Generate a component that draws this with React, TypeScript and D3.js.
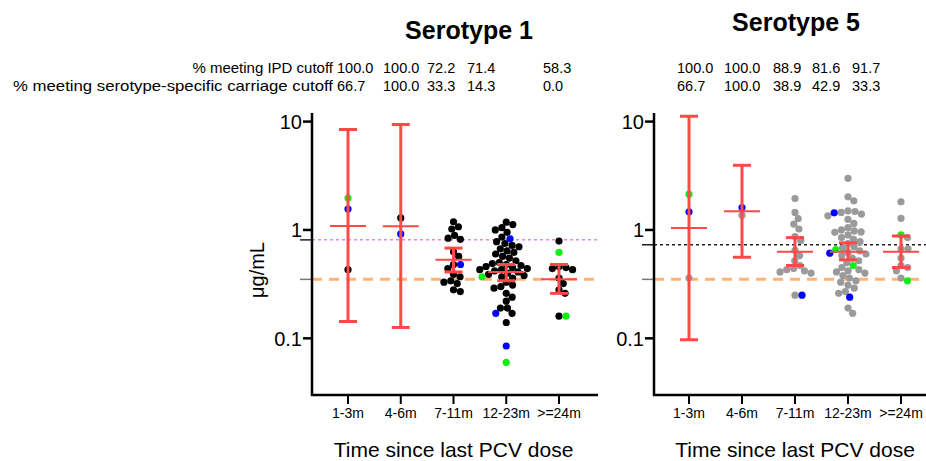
import React from "react";
import * as d3 from "d3";

const categories = ["1-3m", "4-6m", "7-11m", "12-23m", ">=24m"];

// Serotype 1 individual values, per category
const s1Black = [
  [0.43],
  [1.29],
  [1.19, 1.07, 1.02, 0.89, 0.84, 0.82, 0.63, 0.57, 0.48, 0.44, 0.39, 0.37, 0.34, 0.33, 0.32, 0.28, 0.27],
  [1.18, 1.12, 1.05, 1.0, 0.95, 0.86, 0.78, 0.75, 0.72, 0.7, 0.67, 0.64, 0.62, 0.6, 0.57, 0.55, 0.52, 0.5, 0.49, 0.48, 0.47, 0.46, 0.45, 0.44, 0.43, 0.43, 0.42, 0.41, 0.4, 0.39, 0.38, 0.37, 0.36, 0.33, 0.31, 0.3, 0.29, 0.26, 0.24, 0.22, 0.19, 0.19, 0.17, 0.14],
  [0.79, 0.46, 0.45, 0.44, 0.43, 0.36, 0.32, 0.28, 0.26, 0.16],
];
const s1Blue = [[1.56], [0.92], [0.48], [0.83, 0.17, 0.085], []];
const s1Green = [[1.97], [], [], [0.37, 0.06], [0.62, 0.16]];
const s1Mean = [1.09, 1.08, 0.53, 0.41, 0.35];
const s1Upper = [8.45, 9.4, 0.68, 0.48, 0.48];
const s1Lower = [0.143, 0.126, 0.41, 0.34, 0.26];
const s1Ipd = ["100.0", "100.0", "72.2", "71.4", "58.3"];
const s1Carriage = ["66.7", "100.0", "33.3", "14.3", "0.0"];

// Serotype 5 individual values, per category
const s5Gray = [
  [0.36],
  [1.37],
  [1.95, 1.45, 1.27, 1.13, 1.02, 0.87, 0.8, 0.65, 0.58, 0.52, 0.47, 0.44, 0.43, 0.42, 0.41, 0.4, 0.25],
  [3.0, 2.02, 1.86, 1.5, 1.48, 1.45, 1.4, 1.35, 1.25, 1.15, 1.05, 1.0, 0.98, 0.96, 0.95, 0.9, 0.85, 0.82, 0.78, 0.75, 0.7, 0.68, 0.64, 0.62, 0.6, 0.58, 0.55, 0.52, 0.5, 0.45, 0.43, 0.42, 0.41, 0.4, 0.38, 0.36, 0.34, 0.33, 0.31, 0.29, 0.27, 0.26, 0.19, 0.17],
  [1.82, 1.28, 0.85, 0.67, 0.67, 0.55, 0.47, 0.45, 0.42, 0.36],
];
const s5Blue = [[1.47], [1.61], [0.25], [1.44, 0.61, 0.24], []];
const s5Green = [[2.14], [], [], [0.66, 0.47], [0.9, 0.34]];
const s5Mean = [1.04, 1.49, 0.63, 0.63, 0.63];
const s5Upper = [11.2, 3.95, 0.85, 0.76, 0.88];
const s5Lower = [0.097, 0.56, 0.47, 0.53, 0.45];
const s5Ipd = ["100.0", "100.0", "88.9", "81.6", "91.7"];
const s5Carriage = ["66.7", "100.0", "38.9", "42.9", "33.3"];

const ipdCutoff = 0.35;
const s1CarriageCutoff = 0.81;
const s5CarriageCutoff = 0.73;
const yTicks = [10, 1, 0.1];

const FONT = "'Liberation Sans', Arial, sans-serif";
const RED = "#ff4848";

const y = d3.scaleLog().domain([0.03, 12]).range([395, 113]);

type Pt = { v: number; c: string; y: number; x: number; z: number };

// simple beeswarm: each point goes to the free spot nearest the centre
function swarm(groups: { vals: number[]; c: string; z: number }[], d: number): Pt[] {
  const all = groups.flatMap((g) => g.vals.map((v) => ({ v, c: g.c, z: g.z, y: y(v), x: 0 })));
  all.sort((a, b) => a.y - b.y);
  const placed: Pt[] = [];
  for (const p of all) {
    const cands = [0];
    const ints: [number, number][] = [];
    for (const q of placed) {
      const dy = p.y - q.y;
      if (Math.abs(dy) < d) {
        const dx = Math.sqrt(d * d - dy * dy);
        ints.push([q.x - dx, q.x + dx]);
        cands.push(q.x + dx, q.x - dx);
      }
    }
    cands.sort((a, b) => Math.abs(a) - Math.abs(b));
    const x = cands.find((c) => ints.every(([a, b]) => c <= a + 1e-6 || c >= b - 1e-6)) ?? 0;
    placed.push({ ...p, x });
  }
  return placed.sort((a, b) => a.z - b.z);
}

type PanelProps = {
  axisX: number;
  axisEnd: number;
  xRange: [number, number];
  base: number[][];
  baseColor: string;
  blue: number[][];
  green: number[][];
  mean: number[];
  upper: number[];
  lower: number[];
  carriage: number;
  carriageColor: string;
  title: string;
  titleX: number;
  titleY: number;
  ipdTxt: string[];
  carTxt: string[];
  colX: number[];
  yLabel?: boolean;
};

function Panel(p: PanelProps) {
  const x = d3.scalePoint<string>().domain(categories).range(p.xRange);
  return (
    <g fontFamily={FONT}>
      <text x={p.titleX} y={p.titleY} textAnchor="middle" fontWeight="bold" fontSize={25}>
        {p.title}
      </text>
      {p.ipdTxt.map((t, i) => (
        <text key={"i" + i} x={p.colX[i]} y={73} fontSize={14.5}>
          {t}
        </text>
      ))}
      {p.carTxt.map((t, i) => (
        <text key={"c" + i} x={p.colX[i]} y={91} fontSize={14.5}>
          {t}
        </text>
      ))}
      {/* cutoff lines */}
      <line x1={p.axisX - 12} x2={p.axisX} y1={y(p.carriage)} y2={y(p.carriage)} stroke="#222" strokeWidth={1.5} />
      <line x1={p.axisX - 12} x2={p.axisX} y1={y(ipdCutoff)} y2={y(ipdCutoff)} stroke="#777" strokeWidth={1.5} />
      <line x1={p.axisX} x2={p.axisEnd} y1={y(p.carriage)} y2={y(p.carriage)} stroke={p.carriageColor} strokeWidth={1.5} strokeDasharray="3,3" />
      <line x1={p.axisX} x2={p.axisEnd} y1={y(ipdCutoff)} y2={y(ipdCutoff)} stroke="#ffb474" strokeWidth={3} strokeDasharray="10,7" />
      {/* points */}
      {categories.map((cat, i) => {
        const pts = swarm(
          [
            { vals: p.base[i], c: p.baseColor, z: 0 },
            { vals: p.blue[i], c: "#0000ff", z: 1 },
            { vals: p.green[i], c: "#11ee11", z: 1 },
          ],
          7
        );
        return (
          <g key={cat}>
            {pts.map((d, j) => (
              <circle key={j} cx={(x(cat) as number) + d.x} cy={d.y} r={3.6} fill={d.c} />
            ))}
          </g>
        );
      })}
      {/* mean and CI */}
      {categories.map((cat, i) => {
        const cx = x(cat) as number;
        return (
          <g key={"e" + cat} stroke={RED}>
            <line x1={cx} x2={cx} y1={y(p.upper[i])} y2={y(p.lower[i])} strokeWidth={3} />
            <line x1={cx - 9} x2={cx + 9} y1={y(p.upper[i])} y2={y(p.upper[i])} strokeWidth={3} />
            <line x1={cx - 9} x2={cx + 9} y1={y(p.lower[i])} y2={y(p.lower[i])} strokeWidth={3} />
            <line x1={cx - 18} x2={cx + 18} y1={y(p.mean[i])} y2={y(p.mean[i])} strokeWidth={2} />
          </g>
        );
      })}
      {/* axes */}
      <line x1={p.axisX} x2={p.axisX} y1={113} y2={396} stroke="#000" strokeWidth={2.5} />
      <line x1={p.axisX - 1} x2={p.axisEnd} y1={395} y2={395} stroke="#000" strokeWidth={2.5} />
      {yTicks.map((t) => (
        <g key={t}>
          <line x1={p.axisX - 9} x2={p.axisX} y1={y(t)} y2={y(t)} stroke="#000" strokeWidth={2.5} />
          <text x={p.axisX - 10} y={y(t)} dy="0.36em" textAnchor="end" fontSize={20}>
            {t}
          </text>
        </g>
      ))}
      {categories.map((cat) => (
        <g key={"t" + cat}>
          <line x1={x(cat)} x2={x(cat)} y1={395} y2={404} stroke="#000" strokeWidth={2} />
          <text x={x(cat)} y={418} textAnchor="middle" fontSize={14}>
            {cat}
          </text>
        </g>
      ))}
      <text x={(p.xRange[0] + p.xRange[1]) / 2} y={457} textAnchor="middle" fontSize={21}>
        Time since last  PCV dose
      </text>
      {p.yLabel && (
        <text transform={`translate(264,270) rotate(-90)`} textAnchor="middle" fontSize={20}>
          μg/mL
        </text>
      )}
    </g>
  );
}

export default function App() {
  return (
    <svg width={926} height={461} style={{ position: "absolute", left: 0, top: 0, background: "#fff" }}>
      <text x={333} y={73} textAnchor="end" fontFamily={FONT} fontSize={15}>
        % meeting IPD cutoff
      </text>
      <text x={333} y={91} textAnchor="end" fontFamily={FONT} fontSize={15} textLength={320} lengthAdjust="spacingAndGlyphs">
        % meeting serotype-specific carriage cutoff
      </text>
      <Panel
        axisX={312}
        axisEnd={598}
        xRange={[348, 559]}
        base={s1Black}
        baseColor="#000"
        blue={s1Blue}
        green={s1Green}
        mean={s1Mean}
        upper={s1Upper}
        lower={s1Lower}
        carriage={s1CarriageCutoff}
        carriageColor="#ee82ee"
        title="Serotype 1"
        titleX={469}
        titleY={39}
        ipdTxt={s1Ipd}
        carTxt={s1Carriage}
        colX={[337, 383, 427, 467, 543]}
        yLabel
      />
      <Panel
        axisX={654}
        axisEnd={926}
        xRange={[689, 901]}
        base={s5Gray}
        baseColor="#9a9a9a"
        blue={s5Blue}
        green={s5Green}
        mean={s5Mean}
        upper={s5Upper}
        lower={s5Lower}
        carriage={s5CarriageCutoff}
        carriageColor="#222"
        title="Serotype 5"
        titleX={796}
        titleY={31}
        ipdTxt={s5Ipd}
        carTxt={s5Carriage}
        colX={[677, 724, 773, 812, 852]}
      />
    </svg>
  );
}
